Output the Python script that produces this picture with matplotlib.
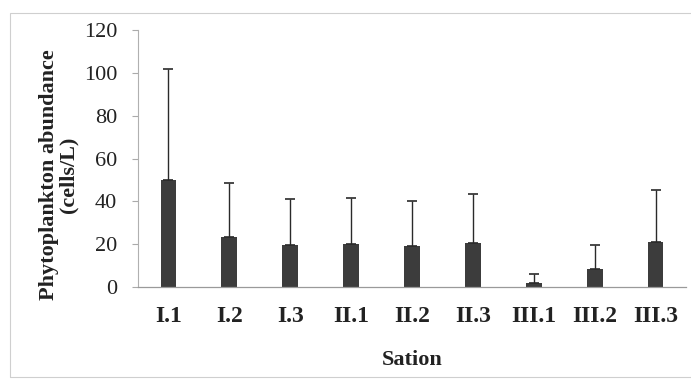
import matplotlib
matplotlib.use("Agg")
import matplotlib.pyplot as plt
from matplotlib.patches import Rectangle

stations = ["I.1", "I.2", "I.3", "II.1", "II.2", "II.3", "III.1", "III.2", "III.3"]
abundance = [50, 23.5, 19.5, 20, 19, 20.5, 2, 8.5, 21]
err_upper = [52, 25, 21.5, 21.5, 21, 23, 4, 11, 24.5]
y_ticks = [0, 20, 40, 60, 80, 100, 120]

plt.rcParams['font.family'] = ['Liberation Serif', 'DejaVu Serif']

fig = plt.figure(figsize=(6.91, 3.80), dpi=100)
fig.patches.append(Rectangle((10/691, 3/380), 690/691, 364/380, transform=fig.transFigure,
                             fill=False, edgecolor='#cfcfcf', linewidth=0.8))
ax = fig.add_axes([138/691, 93/380, 548/691, 257/380])

x = list(range(len(stations)))
ax.bar(x, abundance, width=0.26, color='#3c3c3c', zorder=2)
ax.errorbar(x, abundance, yerr=[[0]*len(x), err_upper], fmt='none', ecolor='#2a2a2a',
            elinewidth=1.0, capsize=3.5, capthick=1.2, zorder=3)

ax.set_xlim(-0.5, len(x) - 0.5)
ax.set_ylim(0, 120)
ax.set_yticks(y_ticks)
ax.set_yticklabels([str(v) for v in y_ticks], fontsize=16, color='#222222')
ax.set_xticks(x)
ax.set_xticklabels(stations, fontsize=17, fontweight='bold', color='#222222')
ax.tick_params(axis='x', length=0, pad=14)
ax.tick_params(axis='y', length=4, width=0.8, color='#aaaaaa', pad=11, direction='out')

for s in ['top', 'right']:
    ax.spines[s].set_visible(False)
ax.spines['left'].set_color('#b0b0b0')
ax.spines['left'].set_linewidth(0.8)
ax.spines['bottom'].set_color('#9a9a9a')
ax.spines['bottom'].set_linewidth(0.9)

ax.set_ylabel("Phytoplankton abundance\n(cells/L)", fontsize=16, fontweight='bold',
              color='#222222', linespacing=0.95)
ax.yaxis.set_label_coords(-0.109, 0.436)
ax.set_xlabel("Sation", fontsize=16, fontweight='bold', color='#222222', labelpad=16)

fig.savefig("out.png", dpi=100, facecolor='white')
